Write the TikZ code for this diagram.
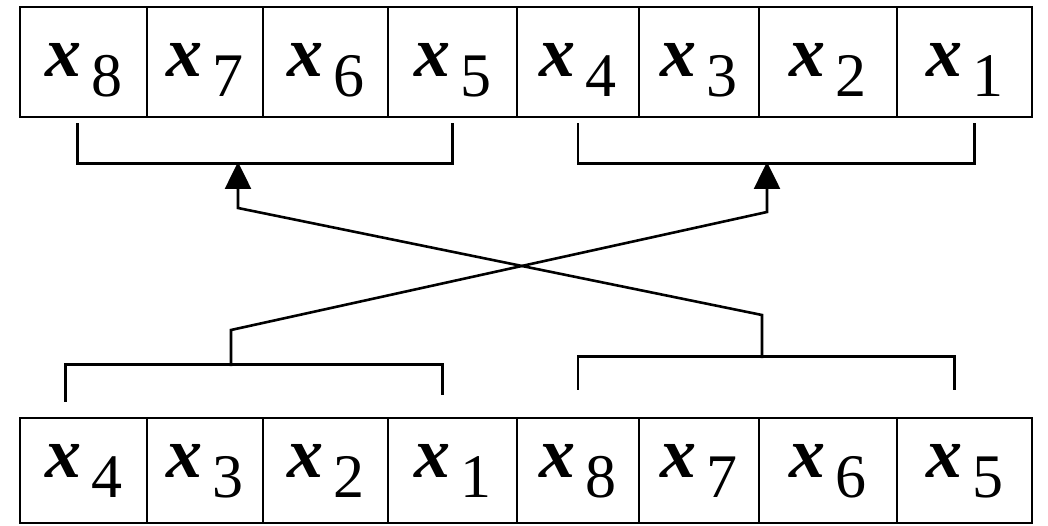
\documentclass[tikz,border=0pt]{standalone}
\usepackage{fontspec}
\setmainfont{Liberation Serif}
\usetikzlibrary{arrows.meta, positioning, calc}

\newcommand{\xsub}[1]{{\fontsize{72}{72}\selectfont\bfseries\itshape x}\hspace{10pt}\raisebox{-20pt}{\fontsize{62}{62}\selectfont #1}}

\begin{document}
\begin{tikzpicture}[x=1pt, y=-1pt, line width=2.6pt,
      cell/.style={draw, inner sep=0pt, text depth=20pt},
      up/.style={-{Triangle[length=27pt, width=26pt]}}]
  \useasboundingbox (0,0) rectangle (1048,526);
  % upper register
  \foreach \n/\l/\r/\k in {1/20/147/8, 2/147/263/7, 3/263/388/6, 4/388/517/5,
                           5/517/639/4, 6/639/759/3, 7/759/897/2, 8/897/1032/1}
    \node[cell, text height=50pt, minimum width={\r-\l}, minimum height=110]
      (t\n) at ({(\l+\r)/2},62) {\xsub{\k}};
  % lower register
  \foreach \n/\l/\r/\k in {1/20/147/4, 2/147/263/3, 3/263/388/2, 4/388/517/1,
                           5/517/639/8, 6/639/759/7, 7/759/897/6, 8/897/1032/5}
    \node[cell, text height=34pt, minimum width={\r-\l}, minimum height=105]
      (b\n) at ({(\l+\r)/2},470.5) {\xsub{\k}};
  % brackets
  \draw ([xshift=-6pt, yshift=-5pt]t1.south) -- ++(0,40) -| ([yshift=-5pt]t4.south);
  \draw ([yshift=-5pt]t5.south) -- ++(0,40) -| ([xshift=10pt, yshift=-5pt]t8.south);
  \draw ([xshift=-18pt, yshift=15pt]b1.north) -- ++(0,-37) -| ([xshift=-10pt, yshift=22pt]b4.north);
  \draw ([yshift=27pt]b5.north) -- ++(0,-33) -| ([xshift=-10pt, yshift=27pt]b8.north);
  \coordinate (ltip) at (238,162);
  \coordinate (rtip) at (767,162);
  \coordinate (lfoot) at (231,366);
  \coordinate (rfoot) at (762,358);
  % swap
  \draw[up] (lfoot) -- ++(0,-36) -- ([yshift=-50pt]rtip) -- (rtip);
  \draw[up] (rfoot) -- ++(0,-43) -- ([yshift=-46pt]ltip) -- (ltip);
\end{tikzpicture}
\end{document}
